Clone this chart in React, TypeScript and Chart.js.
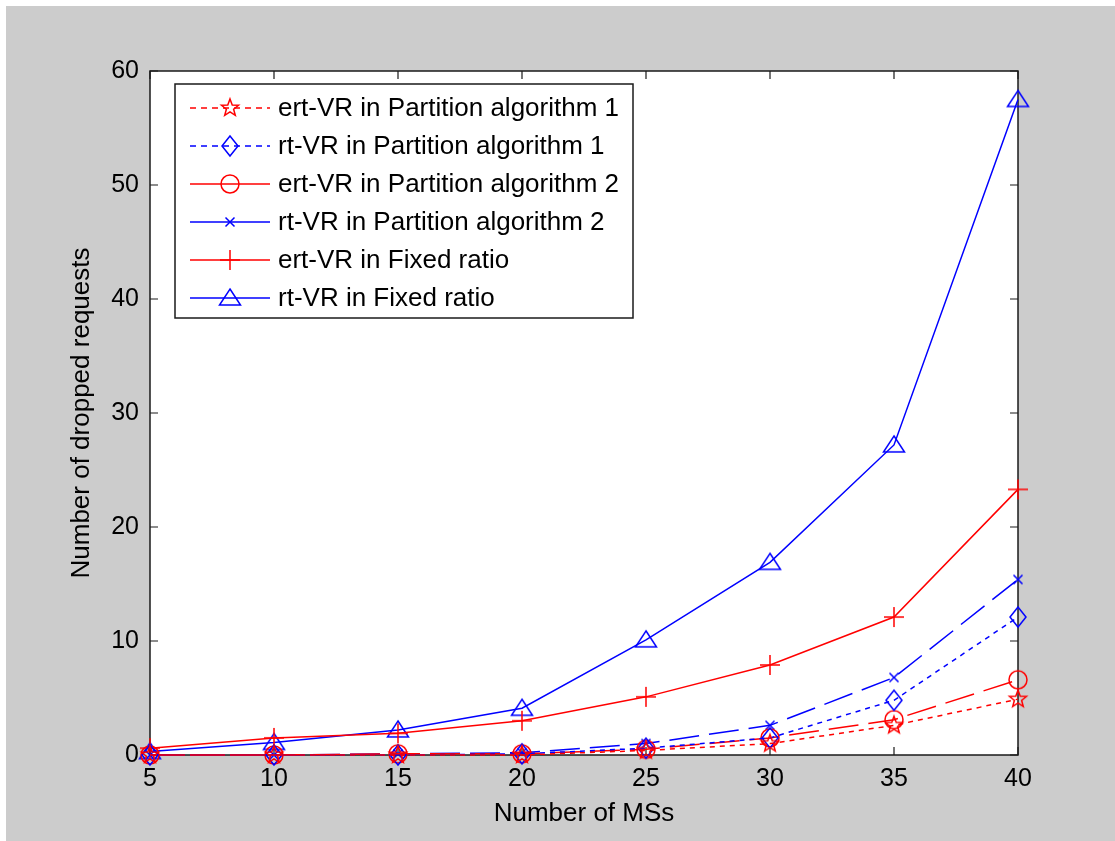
import React, { useEffect, useRef } from 'react';
import { Chart, registerables } from 'chart.js';

Chart.register(...registerables);

// ---- data ----
const msCounts = [5, 10, 15, 20, 25, 30, 35, 40];
const ertPartition1 = [0, 0, 0, 0, 0.4, 1.0, 2.6, 4.9];
const rtPartition1 = [0, 0, 0, 0.1, 0.6, 1.5, 4.8, 12.1];
const ertPartition2 = [0, 0, 0.1, 0.1, 0.5, 1.5, 3.1, 6.6];
const rtPartition2 = [0, 0, 0.1, 0.2, 1.0, 2.6, 6.8, 15.4];
const ertFixed = [0.6, 1.5, 1.9, 3.0, 5.1, 7.9, 12.1, 23.3];
const rtFixed = [0.3, 1.1, 2.2, 4.1, 10.1, 16.9, 27.2, 57.5];
const xTicks = [5, 10, 15, 20, 25, 30, 35, 40];
const yTicks = [0, 10, 20, 30, 40, 50, 60];
const seriesNames = [
  'ert-VR in Partition algorithm 1',
  'rt-VR in Partition algorithm 1',
  'ert-VR in Partition algorithm 2',
  'rt-VR in Partition algorithm 2',
  'ert-VR in Fixed ratio',
  'rt-VR in Fixed ratio',
];
const xTitle = 'Number of MSs';
const yTitle = 'Number of dropped requests';

const RED = '#ff0000';
const BLUE = '#0000ff';
const FONT = '"Liberation Sans", Arial, sans-serif';

type MarkerKind = 'star' | 'diamond' | 'circle' | 'x' | 'plus' | 'triangle';

function drawMarker(ctx: CanvasRenderingContext2D, kind: MarkerKind, x: number, y: number, color: string) {
  ctx.save();
  ctx.strokeStyle = color;
  ctx.lineWidth = 1.5;
  ctx.setLineDash([]);
  ctx.beginPath();
  switch (kind) {
    case 'star': {
      const R = 9, r = 3.8;
      for (let i = 0; i < 10; i++) {
        const a = -Math.PI / 2 + (i * Math.PI) / 5;
        const rad = i % 2 === 0 ? R : r;
        const px = x + rad * Math.cos(a);
        const py = y + rad * Math.sin(a);
        if (i === 0) ctx.moveTo(px, py);
        else ctx.lineTo(px, py);
      }
      ctx.closePath();
      break;
    }
    case 'diamond':
      ctx.moveTo(x, y - 10);
      ctx.lineTo(x + 8, y);
      ctx.lineTo(x, y + 10);
      ctx.lineTo(x - 8, y);
      ctx.closePath();
      break;
    case 'circle':
      ctx.arc(x, y, 9, 0, Math.PI * 2);
      break;
    case 'x':
      ctx.moveTo(x - 4.5, y - 4.5);
      ctx.lineTo(x + 4.5, y + 4.5);
      ctx.moveTo(x + 4.5, y - 4.5);
      ctx.lineTo(x - 4.5, y + 4.5);
      break;
    case 'plus':
      ctx.moveTo(x - 10, y);
      ctx.lineTo(x + 10, y);
      ctx.moveTo(x, y - 10);
      ctx.lineTo(x, y + 10);
      break;
    case 'triangle':
      ctx.moveTo(x, y - 9);
      ctx.lineTo(x + 10.5, y + 7);
      ctx.lineTo(x - 10.5, y + 7);
      ctx.closePath();
      break;
  }
  ctx.stroke();
  ctx.restore();
}

function markerImage(kind: MarkerKind, color: string) {
  const c = document.createElement('canvas');
  c.width = 28;
  c.height = 28;
  const ctx = c.getContext('2d')!;
  drawMarker(ctx, kind, 14, 14, color);
  return c;
}

const series = [
  { name: seriesNames[0], values: ertPartition1, color: RED, marker: 'star' as MarkerKind, dash: [5, 5], legendDash: [6, 5] },
  { name: seriesNames[1], values: rtPartition1, color: BLUE, marker: 'diamond' as MarkerKind, dash: [5, 5], legendDash: [6, 5] },
  { name: seriesNames[2], values: ertPartition2, color: RED, marker: 'circle' as MarkerKind, dash: [30, 10], legendDash: [] },
  { name: seriesNames[3], values: rtPartition2, color: BLUE, marker: 'x' as MarkerKind, dash: [30, 10], legendDash: [] },
  { name: seriesNames[4], values: ertFixed, color: RED, marker: 'plus' as MarkerKind, dash: [], legendDash: [] },
  { name: seriesNames[5], values: rtFixed, color: BLUE, marker: 'triangle' as MarkerKind, dash: [], legendDash: [] },
];

const backgroundPlugin = {
  id: 'matlabBackground',
  beforeDraw(chart: any) {
    const { ctx, width, height, chartArea } = chart;
    ctx.save();
    ctx.fillStyle = '#ffffff';
    ctx.fillRect(0, 0, width, height);
    ctx.fillStyle = '#cccccc';
    ctx.fillRect(6, 6, width - 6, height - 6);
    ctx.fillStyle = '#ffffff';
    ctx.fillRect(chartArea.left, chartArea.top, chartArea.right - chartArea.left, chartArea.bottom - chartArea.top);
    ctx.restore();
  },
  beforeDatasetsDraw(chart: any) {
    const { ctx, chartArea } = chart;
    const xs = chart.scales.x;
    const ys = chart.scales.y;
    const { left, right, top, bottom } = chartArea;
    ctx.save();
    ctx.strokeStyle = '#1a1a1a';
    ctx.lineWidth = 1.5;
    ctx.setLineDash([]);
    ctx.strokeRect(left, top, right - left, bottom - top);
    ctx.lineWidth = 1.2;
    ctx.beginPath();
    xTicks.forEach((v) => {
      const px = xs.getPixelForValue(v);
      ctx.moveTo(px, bottom);
      ctx.lineTo(px, bottom - 8);
      ctx.moveTo(px, top);
      ctx.lineTo(px, top + 8);
    });
    yTicks.forEach((v) => {
      const py = ys.getPixelForValue(v);
      ctx.moveTo(left, py);
      ctx.lineTo(left + 8, py);
      ctx.moveTo(right, py);
      ctx.lineTo(right - 8, py);
    });
    ctx.stroke();
    ctx.restore();
  },
};

const legendPlugin = {
  id: 'matlabLegend',
  afterDatasetsDraw(chart: any) {
    const { ctx, chartArea } = chart;
    const bx = chartArea.left + 25;
    const by = chartArea.top + 13;
    const bw = 458;
    const bh = 234;
    ctx.save();
    ctx.fillStyle = '#ffffff';
    ctx.fillRect(bx, by, bw, bh);
    ctx.strokeStyle = '#1a1a1a';
    ctx.lineWidth = 1.5;
    ctx.setLineDash([]);
    ctx.strokeRect(bx, by, bw, bh);
    ctx.font = `26px ${FONT}`;
    ctx.textBaseline = 'middle';
    ctx.textAlign = 'left';
    series.forEach((s, i) => {
      const cy = by + 24 + i * 38;
      ctx.strokeStyle = s.color;
      ctx.lineWidth = 1.5;
      ctx.setLineDash(s.legendDash);
      ctx.beginPath();
      ctx.moveTo(bx + 15, cy);
      ctx.lineTo(bx + 95, cy);
      ctx.stroke();
      ctx.setLineDash([]);
      drawMarker(ctx, s.marker, bx + 55, cy, s.color);
      ctx.fillStyle = '#000000';
      ctx.fillText(s.name, bx + 103, cy + 1);
    });
    ctx.restore();
  },
};

export default function App() {
  const canvasRef = useRef<HTMLCanvasElement | null>(null);

  useEffect(() => {
    const canvas = canvasRef.current;
    if (!canvas) return;
    Chart.defaults.font.family = FONT;
    Chart.defaults.color = '#000000';

    const datasets = series.map((s) => ({
      label: s.name,
      data: s.values.map((v, i) => ({ x: msCounts[i], y: v })),
      borderColor: s.color,
      backgroundColor: s.color,
      borderWidth: 1.5,
      borderDash: s.dash,
      pointStyle: markerImage(s.marker, s.color),
      pointRadius: 10,
      pointHoverRadius: 10,
      tension: 0,
      fill: false,
      clip: false as any,
    }));

    const chart = new Chart(canvas, {
      type: 'line',
      data: { datasets },
      options: {
        animation: false,
        responsive: false,
        devicePixelRatio: 1,
        events: [],
        layout: { padding: { top: 71, right: 97, left: 0, bottom: 0 } },
        plugins: {
          legend: { display: false },
          tooltip: { enabled: false },
          title: { display: false },
        },
        scales: {
          x: {
            type: 'linear',
            min: 5,
            max: 40,
            afterBuildTicks: (s: any) => {
              s.ticks = xTicks.map((v) => ({ value: v }));
            },
            afterFit: (s: any) => {
              s.height = 86;
            },
            grid: { display: false, drawTicks: false, tickLength: 0 },
            border: { display: false },
            ticks: { font: { size: 25 }, color: '#000', padding: 9, maxRotation: 0 },
            title: { display: true, text: xTitle, font: { size: 26 }, color: '#000', padding: { top: 0, bottom: 12 } },
          },
          y: {
            type: 'linear',
            min: 0,
            max: 60,
            afterBuildTicks: (s: any) => {
              s.ticks = yTicks.map((v) => ({ value: v }));
            },
            afterFit: (s: any) => {
              s.width = 150;
            },
            grid: { display: false, drawTicks: false, tickLength: 0 },
            border: { display: false },
            ticks: { font: { size: 25 }, color: '#000', padding: 11 },
            title: { display: true, text: yTitle, font: { size: 26 }, color: '#000', padding: { top: 66, bottom: 0 } },
          },
        },
      },
      plugins: [backgroundPlugin, legendPlugin],
    });

    return () => chart.destroy();
  }, []);

  return (
    <div style={{ position: 'absolute', left: 0, top: 0, width: 1115, height: 841, background: '#ffffff' }}>
      <canvas ref={canvasRef} width={1115} height={841} style={{ display: 'block', width: 1115, height: 841 }} />
    </div>
  );
}
